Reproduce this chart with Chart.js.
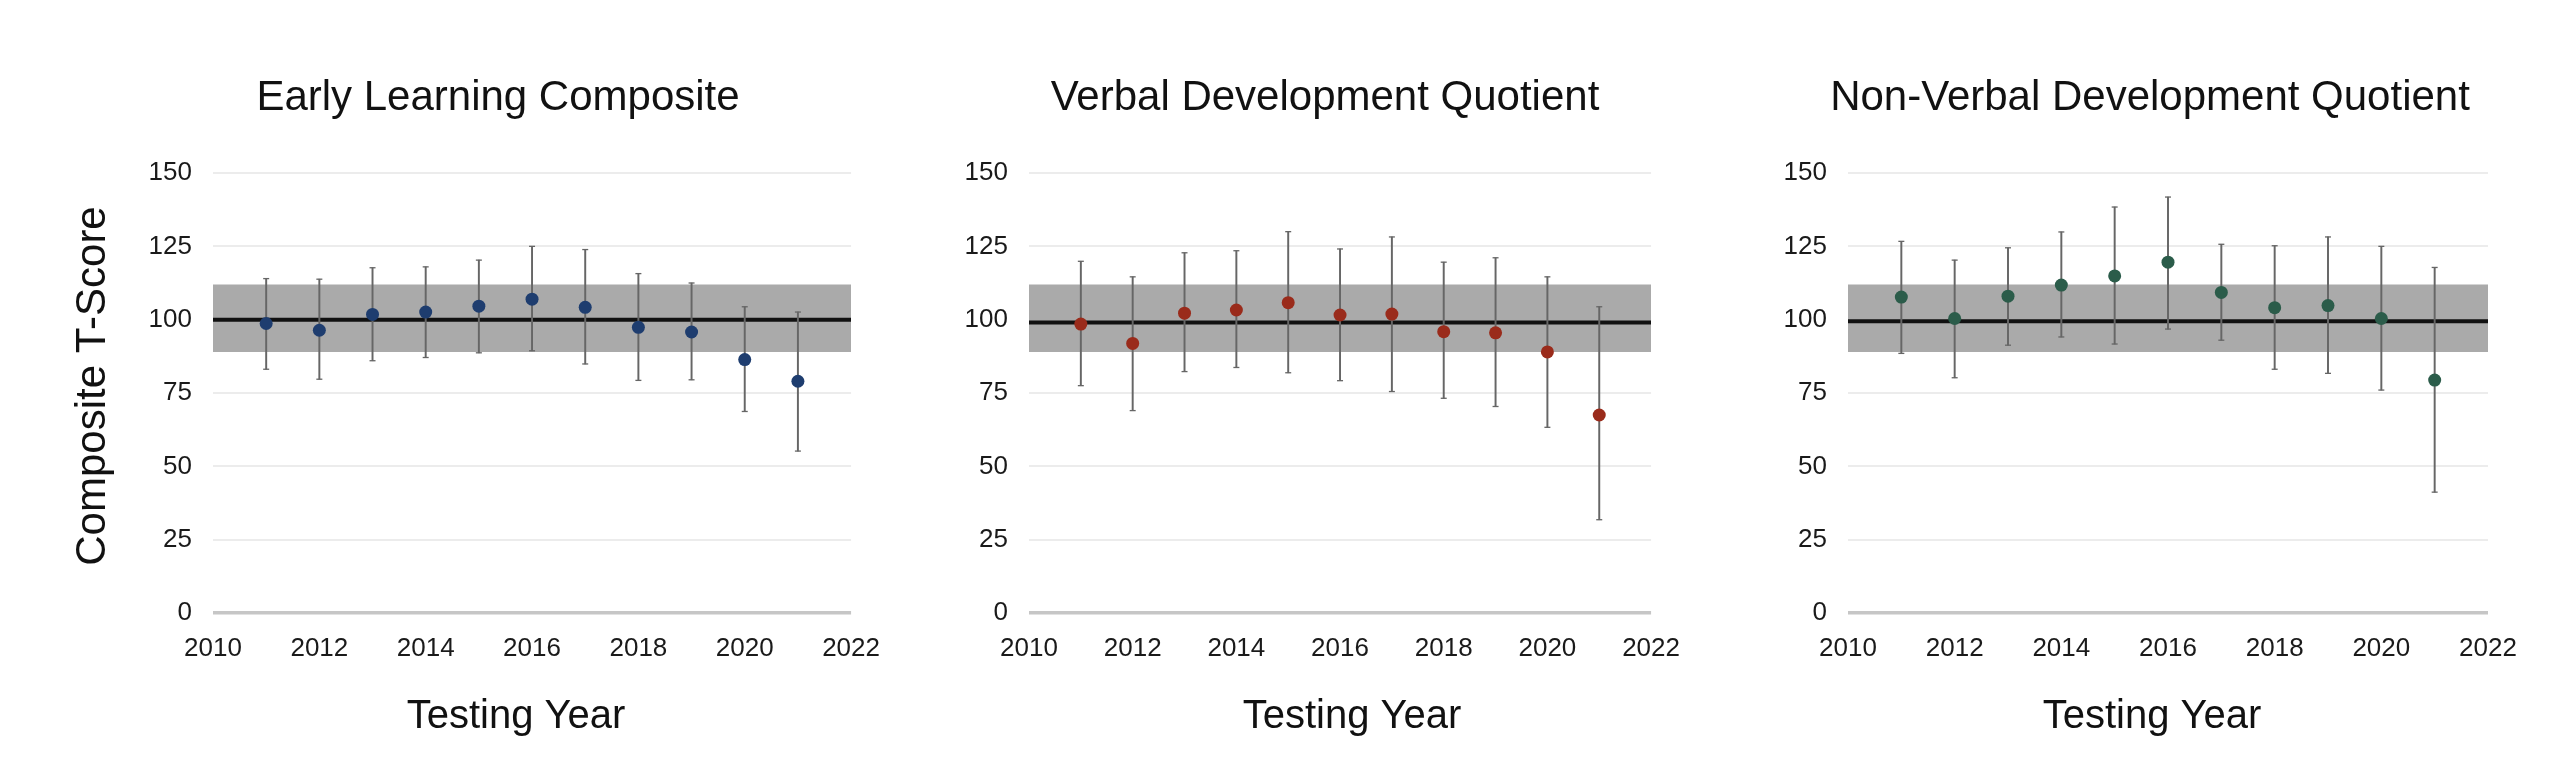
<!DOCTYPE html>
<html lang="en">
<head>
    <meta charset="UTF-8">
    <title>Composite T-Scores by Testing Year</title>
    <style>
        body {
            margin: 0;
            background-color: #fff;
            width: 2558px;
            height: 760px;
            position: relative;
            overflow: hidden;
        }
        canvas {
            position: absolute;
            top: 0;
        }
    </style>
</head>
<body>

<canvas id="elc" width="900" height="760" style="left:0px"></canvas>
<canvas id="vdq" width="800" height="760" style="left:900px"></canvas>
<canvas id="nvdq" width="858" height="760" style="left:1700px"></canvas>

<script src="https://cdn.jsdelivr.net/npm/chart.js"></script>
<script>
    // values
    const years = [2011, 2012, 2013, 2014, 2015, 2016, 2017, 2018, 2019, 2020, 2021];

    const elcMean = [98.7, 96.4, 101.8, 102.6, 104.6, 107.0, 104.2, 97.4, 95.8, 86.4, 79.0];
    const elcLow  = [83.1, 79.7, 86.0, 87.1, 88.7, 89.4, 84.9, 79.3, 79.5, 68.7, 55.2];
    const elcHigh = [114.0, 113.8, 117.7, 118.0, 120.3, 125.0, 123.9, 115.7, 112.5, 104.4, 102.6];

    const vdqMean = [98.5, 91.9, 102.2, 103.3, 105.8, 101.6, 101.9, 95.9, 95.5, 89.0, 67.5];
    const vdqLow  = [77.5, 69.0, 82.3, 83.7, 81.9, 79.2, 75.5, 73.2, 70.4, 63.3, 31.8];
    const vdqHigh = [119.9, 114.6, 122.8, 123.5, 130.0, 124.1, 128.2, 119.6, 121.1, 114.6, 104.4];

    const nvdqMean = [107.7, 100.4, 108.0, 111.8, 114.9, 119.6, 109.3, 104.1, 104.8, 100.4, 79.4];
    const nvdqLow  = [88.5, 80.2, 91.3, 94.1, 91.7, 96.8, 93.0, 83.1, 81.7, 76.0, 41.2];
    const nvdqHigh = [126.7, 120.3, 124.5, 129.9, 138.4, 141.8, 125.7, 125.2, 128.2, 125.0, 117.8];

    // average range band and reference line
    const bandLow = 89;
    const bandHigh = 112;
    const refLine = [100, 99, 99.5];

    const xMin = 2010, xMax = 2022, xStep = 2;
    const yMin = 0, yMax = 150, yStep = 25;

    const FONT = '"Liberation Sans", Arial, Helvetica, sans-serif';

    // titles drawn at fixed spots around the plot
    const panelText = {
        id: 'panelText',
        afterDraw(chart, args, opts) {
            const ctx = chart.ctx;
            ctx.save();
            ctx.fillStyle = '#111';
            ctx.textAlign = 'center';
            ctx.textBaseline = 'alphabetic';
            ctx.font = '42px ' + FONT;
            ctx.fillText(opts.title, opts.titleX, 110);
            ctx.font = '40px ' + FONT;
            ctx.fillText('Testing Year', opts.xTitleX, 728);
            if (opts.yTitle) {
                ctx.font = '42px ' + FONT;
                ctx.translate(105, 386);
                ctx.rotate(-Math.PI / 2);
                ctx.fillText(opts.yTitle, 0, 0);
            }
            ctx.restore();
        }
    };

    function makePanel(id, mean, low, high, ref, dotColor, o) {
        const pts = (arr) => years.map((y, i) => ({ x: y, y: arr[i] }));
        const ctx = document.getElementById(id).getContext('2d');
        return new Chart(ctx, {
            type: 'scatter',
            data: {
                datasets: [
                    {
                        type: 'line',
                        data: [{ x: xMin, y: bandHigh }, { x: xMax, y: bandHigh }],
                        borderWidth: 0,
                        pointRadius: 0,
                        backgroundColor: '#aaaaaa',
                        fill: { value: bandLow },
                        order: 5
                    },
                    {
                        type: 'line',
                        data: [{ x: xMin, y: ref }, { x: xMax, y: ref }],
                        borderColor: '#111',
                        borderWidth: 4,
                        pointRadius: 0,
                        fill: false,
                        order: 4
                    },
                    {
                        type: 'bar',
                        data: years.map((y, i) => ({ x: y, y: [low[i], high[i]] })),
                        backgroundColor: '#666',
                        barThickness: 1.3,
                        grouped: false,
                        order: 3
                    },
                    {
                        data: pts(low).concat(pts(high)),
                        pointStyle: 'line',
                        pointRadius: 3,
                        borderColor: '#666',
                        borderWidth: 1.3,
                        order: 2
                    },
                    {
                        data: pts(mean),
                        pointRadius: 6.5,
                        pointBackgroundColor: dotColor,
                        pointBorderWidth: 0,
                        order: 1
                    }
                ]
            },
            options: {
                responsive: false,
                animation: false,
                events: [],
                layout: { padding: { left: 0, right: o.padRight, top: 173, bottom: 87 } },
                plugins: {
                    legend: { display: false },
                    tooltip: { enabled: false },
                    panelText: o.text
                },
                scales: {
                    x: {
                        type: 'linear',
                        min: xMin,
                        max: xMax,
                        offset: false,
                        grid: { display: false, drawTicks: false },
                        border: { display: false },
                        ticks: {
                            stepSize: xStep,
                            padding: 20,
                            color: '#1a1a1a',
                            font: { family: FONT, size: 26 },
                            maxRotation: 0,
                            callback: (v) => String(v)
                        },
                        afterFit: (s) => { s.height = 60; }
                    },
                    y: {
                        min: yMin,
                        max: yMax,
                        grid: {
                            drawTicks: false,
                            color: (c) => c.tick && c.tick.value === 0 ? '#c6c6c6' : '#ececec',
                            lineWidth: (c) => c.tick && c.tick.value === 0 ? 3.5 : 2
                        },
                        border: { display: false },
                        ticks: {
                            stepSize: yStep,
                            padding: 21,
                            color: '#1a1a1a',
                            font: { family: FONT, size: 26 }
                        },
                        afterFit: (s) => { s.width = o.axisWidth; }
                    }
                }
            },
            plugins: [panelText]
        });
    }

    makePanel('elc', elcMean, elcLow, elcHigh, refLine[0], '#1e3d6f', {
        padRight: 47, axisWidth: 213,
        text: { title: 'Early Learning Composite', titleX: 498, xTitleX: 516, yTitle: 'Composite T-Score' }
    });
    makePanel('vdq', vdqMean, vdqLow, vdqHigh, refLine[1], '#9a2b1b', {
        padRight: 31, axisWidth: 129,
        text: { title: 'Verbal Development Quotient', titleX: 425, xTitleX: 452 }
    });
    makePanel('nvdq', nvdqMean, nvdqLow, nvdqHigh, refLine[2], '#2b5c4a', {
        padRight: 70, axisWidth: 148,
        text: { title: 'Non-Verbal Development Quotient', titleX: 450, xTitleX: 452 }
    });
</script>
</body>
</html>
